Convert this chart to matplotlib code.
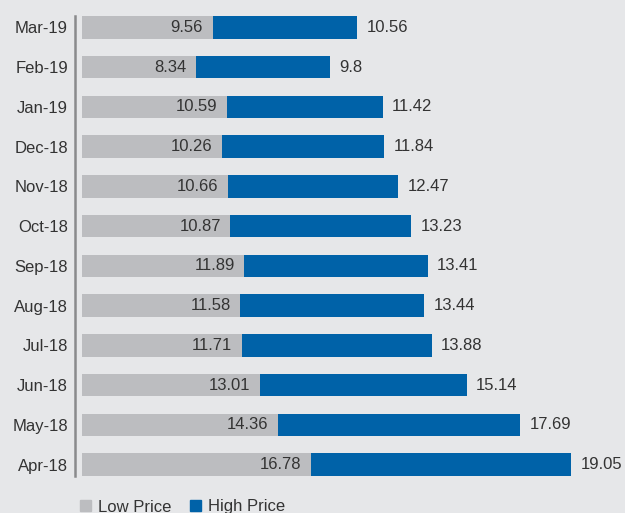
import matplotlib
matplotlib.use("Agg")
import matplotlib.pyplot as plt
from matplotlib.patches import Patch

plt.rcParams['font.family'] = ['Liberation Sans', 'DejaVu Sans']

# Monthly share price range
months = ['Apr-18', 'May-18', 'Jun-18', 'Jul-18', 'Aug-18', 'Sep-18',
          'Oct-18', 'Nov-18', 'Dec-18', 'Jan-19', 'Feb-19', 'Mar-19']
low = [16.78, 14.36, 13.01, 11.71, 11.58, 11.89, 10.87, 10.66, 10.26, 10.59, 8.34, 9.56]
high = [19.05, 17.69, 15.14, 13.88, 13.44, 13.41, 13.23, 12.47, 11.84, 11.42, 9.8, 10.56]

bg = '#e6e7e9'
grey = '#bcbdc0'
blue = '#0062a8'
txt = '#333333'

fig = plt.figure(figsize=(6.25, 5.13), dpi=100, facecolor=bg)
ax = fig.add_axes([82 / 625, 37 / 513, 1 - 82 / 625, (476 - 16) / 513])
ax.set_facecolor(bg)

y = list(range(len(months)))
h = 0.57
ax.barh(y, low, height=h, color=grey)
ax.barh(y, high, left=low, height=h, color=blue)

for i in y:
    ax.text(low[i] - 0.7, i, f'{low[i]:g}', ha='right', va='center', fontsize=12, color=txt)
    ax.text(low[i] + high[i] + 0.7, i, f'{high[i]:g}', ha='left', va='center', fontsize=12, color=txt)

ax.set_xlim(0, 39.75)
ax.set_ylim(-h / 2, len(months) - 1 + h / 2)
ax.set_yticks(y, months)
ax.tick_params(axis='y', length=0, pad=5, labelsize=12, labelcolor=txt)
ax.set_xticks([])
for s in ['top', 'right', 'bottom']:
    ax.spines[s].set_visible(False)
ax.spines['left'].set_position(('outward', 5))
ax.spines['left'].set_color('#8a8a8c')
ax.spines['left'].set_linewidth(1.8)

handles = [Patch(color=grey, label='Low Price'), Patch(color=blue, label='High Price')]
fig.legend(handles=handles, loc='center left', bbox_to_anchor=(80 / 625, 1 - 507 / 513),
           ncol=2, frameon=False, fontsize=12, handlelength=0.65, handleheight=0.65,
           handletextpad=0.45, columnspacing=1.1, labelcolor=txt,
           borderpad=0, borderaxespad=0)

fig.savefig('out.png', dpi=100, facecolor=bg)
